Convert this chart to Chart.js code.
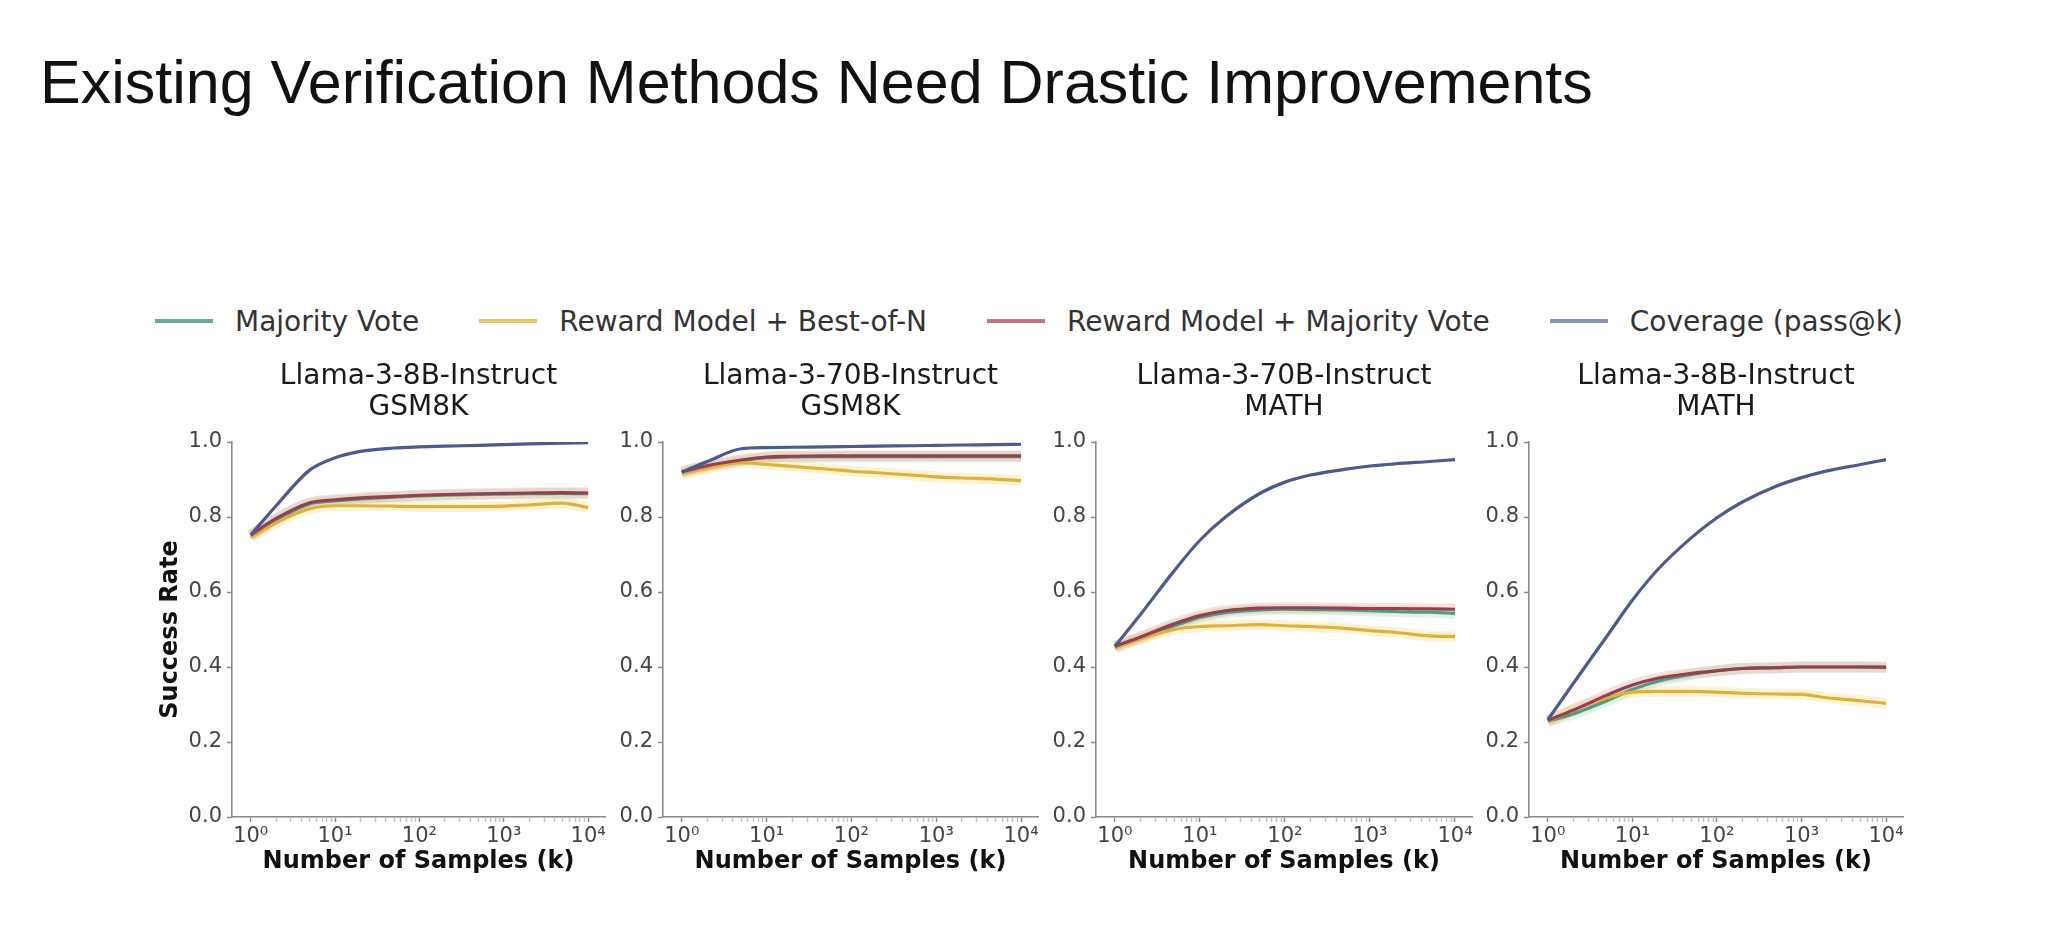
<!DOCTYPE html>
<html><head><meta charset="utf-8">
<script src="https://cdn.jsdelivr.net/npm/chart.js@4.4.0/dist/chart.umd.min.js"></script>
<style>
html,body{margin:0;padding:0;background:#fff;}
body{width:2048px;height:946px;overflow:hidden;position:relative;font-family:'DejaVu Sans',sans-serif;}
#title{position:absolute;left:40px;top:52px;font-family:'Liberation Sans',Arial,sans-serif;font-size:61px;line-height:61px;color:#111;white-space:nowrap;}
#legend{position:absolute;left:155px;top:301px;height:40px;display:flex;align-items:center;font-size:28px;color:#333;white-space:nowrap;}
.item{display:flex;align-items:center;margin-right:60px;}
.swatch{width:58px;height:4px;margin-right:22px;}
canvas{position:absolute;}
</style></head><body>
<div id="title">Existing Verification Methods Need Drastic Improvements</div>
<div id="legend"></div>
<script>
// ---------- data ----------
const ks = [1, 2, 5, 10, 20, 50, 100, 200, 500, 1000, 2000, 5000, 10000];
const seriesNames = ["Majority Vote", "Reward Model + Best-of-N", "Reward Model + Majority Vote", "Coverage (pass@k)"];
const panelTitles = [
  ["Llama-3-8B-Instruct", "GSM8K"],
  ["Llama-3-70B-Instruct", "GSM8K"],
  ["Llama-3-70B-Instruct", "MATH"],
  ["Llama-3-8B-Instruct", "MATH"]
];
const xTickValues = [1, 10, 100, 1000, 10000];
const xTickLabels = ["10\u2070", "10\u00B9", "10\u00B2", "10\u00B3", "10\u2074"];
const yTickValues = [0, 0.2, 0.4, 0.6, 0.8, 1.0];
const yTickLabels = ["0.0", "0.2", "0.4", "0.6", "0.8", "1.0"];
const xAxisTitle = "Number of Samples (k)";
const yAxisTitle = "Success Rate";

// Panel 1: Llama-3-8B-Instruct GSM8K
const p1MajorityVote = [0.750, 0.792, 0.835, 0.843, 0.848, 0.853, 0.856, 0.858, 0.860, 0.861, 0.862, 0.863, 0.862];
const p1BestOfN      = [0.745, 0.785, 0.822, 0.830, 0.830, 0.829, 0.828, 0.828, 0.828, 0.829, 0.832, 0.837, 0.825];
const p1RMMajority   = [0.752, 0.796, 0.838, 0.846, 0.851, 0.855, 0.858, 0.860, 0.862, 0.863, 0.864, 0.865, 0.864];
const p1Coverage     = [0.752, 0.830, 0.925, 0.958, 0.975, 0.984, 0.987, 0.989, 0.991, 0.993, 0.995, 0.997, 0.998];

// Panel 2: Llama-3-70B-Instruct GSM8K
const p2MajorityVote = [0.920, 0.935, 0.950, 0.958, 0.960, 0.961, 0.961, 0.961, 0.961, 0.961, 0.961, 0.961, 0.961];
const p2BestOfN      = [0.915, 0.930, 0.945, 0.940, 0.935, 0.928, 0.922, 0.918, 0.912, 0.907, 0.904, 0.901, 0.897];
const p2RMMajority   = [0.920, 0.937, 0.952, 0.960, 0.962, 0.963, 0.963, 0.963, 0.963, 0.963, 0.963, 0.963, 0.963];
const p2Coverage     = [0.920, 0.948, 0.982, 0.985, 0.986, 0.987, 0.988, 0.989, 0.990, 0.991, 0.992, 0.993, 0.994];

// Panel 3: Llama-3-70B-Instruct MATH
const p3MajorityVote = [0.455, 0.478, 0.510, 0.532, 0.545, 0.552, 0.554, 0.553, 0.552, 0.550, 0.548, 0.546, 0.543];
const p3BestOfN      = [0.450, 0.475, 0.500, 0.508, 0.510, 0.513, 0.510, 0.508, 0.503, 0.497, 0.492, 0.483, 0.481];
const p3RMMajority   = [0.455, 0.480, 0.515, 0.537, 0.550, 0.557, 0.558, 0.558, 0.557, 0.556, 0.556, 0.555, 0.554];
const p3Coverage     = [0.455, 0.540, 0.657, 0.738, 0.800, 0.862, 0.893, 0.912, 0.927, 0.936, 0.942, 0.948, 0.953];

// Panel 4: Llama-3-8B-Instruct MATH
const p4MajorityVote = [0.255, 0.275, 0.310, 0.340, 0.362, 0.380, 0.390, 0.396, 0.398, 0.400, 0.400, 0.400, 0.400];
const p4BestOfN      = [0.255, 0.285, 0.318, 0.333, 0.335, 0.335, 0.333, 0.330, 0.328, 0.327, 0.318, 0.310, 0.303];
const p4RMMajority   = [0.258, 0.285, 0.325, 0.352, 0.370, 0.383, 0.390, 0.396, 0.398, 0.400, 0.400, 0.400, 0.399];
const p4Coverage     = [0.259, 0.356, 0.482, 0.578, 0.660, 0.745, 0.798, 0.840, 0.882, 0.905, 0.923, 0.940, 0.953];

const panelData = [
  [p1MajorityVote, p1BestOfN, p1RMMajority, p1Coverage],
  [p2MajorityVote, p2BestOfN, p2RMMajority, p2Coverage],
  [p3MajorityVote, p3BestOfN, p3RMMajority, p3Coverage],
  [p4MajorityVote, p4BestOfN, p4RMMajority, p4Coverage]
];

// ---------- styles / layout ----------
const lineColors = ["#4f9a84", "#dcb13f", "#93404f", "#4d5a8e"];
const haloColors = ["rgba(110,200,120,0.20)", "rgba(250,215,100,0.28)", "rgba(235,120,120,0.22)", "rgba(0,0,0,0)"];
const legendColors = ["#6aa795", "#e6c66c", "#bd7783", "#8893b9"];
const plotLefts = [232, 663, 1096, 1529];
const plotWidths = [373, 375, 376, 374];
const plotTop = 442, plotBottom = 817;
const yAxisW = 80, topBoxH = 84, bottomBoxH = 59, rightPad = 30;

// legend
const legendEl = document.getElementById('legend');
seriesNames.forEach((n, i) => {
  const it = document.createElement('div'); it.className = 'item';
  const sw = document.createElement('div'); sw.className = 'swatch'; sw.style.background = legendColors[i];
  const tx = document.createElement('span'); tx.textContent = n;
  it.appendChild(sw); it.appendChild(tx); legendEl.appendChild(it);
});

// minor ticks on the log axis
const xAllTicks = [];
xTickValues.forEach((d, i) => {
  xAllTicks.push(d);
  if (i < xTickValues.length - 1) for (let m = 2; m <= 9; m++) xAllTicks.push(d * m);
});

const axisGray = "#8a8a8a";
Chart.defaults.font.family = "'DejaVu Sans', sans-serif";

panelData.forEach((series, p) => {
  const cv = document.createElement('canvas');
  const W = yAxisW + plotWidths[p] + rightPad;
  const top = plotTop - topBoxH;
  const H = (plotBottom + bottomBoxH) - top;
  cv.width = W; cv.height = H;
  cv.style.left = (plotLefts[p] - yAxisW) + 'px';
  cv.style.top = top + 'px';
  cv.style.width = W + 'px'; cv.style.height = H + 'px';
  document.body.appendChild(cv);

  const datasets = [];
  series.forEach((vals, s) => {
    const pts = ks.map((k, i) => ({x: k, y: vals[i]}));
    datasets.push({
      label: seriesNames[s], data: pts, borderColor: lineColors[s], borderWidth: 3.2,
      pointRadius: 0, cubicInterpolationMode: 'monotone', order: 4 - s, fill: false
    });
    datasets.push({
      label: seriesNames[s] + ' band', data: pts, borderColor: haloColors[s], borderWidth: 11,
      pointRadius: 0, cubicInterpolationMode: 'monotone', order: 10 + (4 - s), fill: false
    });
  });

  new Chart(cv, {
    type: 'line',
    data: {datasets},
    options: {
      responsive: false, animation: false, devicePixelRatio: 1,
      layout: {padding: {left: 0, right: rightPad, top: 0, bottom: 0}, autoPadding: false},
      plugins: {legend: {display: false}, tooltip: {enabled: false}, title: {display: false}},
      scales: {
        x: {
          type: 'logarithmic', position: 'bottom', min: Math.pow(10, -0.2), max: Math.pow(10, 4.2),
          afterBuildTicks: s => { s.ticks = xAllTicks.map(v => ({value: v, major: xTickValues.includes(v)})); },
          afterFit: s => { s.height = bottomBoxH; },
          ticks: {
            autoSkip: false, maxRotation: 0, padding: 2, color: '#444', font: {size: 21},
            callback: v => { const i = xTickValues.indexOf(v); return i >= 0 ? xTickLabels[i] : ''; }
          },
          grid: {drawOnChartArea: false, drawTicks: true, tickLength: 5,
                 tickColor: c => (c.tick && c.tick.major) ? axisGray : '#c4c4c4', tickWidth: 1.5},
          border: {display: true, color: axisGray, width: 1.6},
          title: {display: true, text: xAxisTitle, color: '#111', font: {size: 24, weight: 'bold', lineHeight: 1.2}, padding: {top: 0, bottom: 0}}
        },
        y: {
          type: 'linear', position: 'left', min: 0, max: 1,
          afterBuildTicks: s => { s.ticks = yTickValues.map(v => ({value: v})); },
          afterFit: s => { s.width = yAxisW; },
          ticks: {padding: 5, color: '#444', font: {size: 21}, callback: (v, i) => yTickLabels[i]},
          grid: {drawOnChartArea: false, drawTicks: true, tickLength: 5, tickColor: axisGray, tickWidth: 1.5},
          border: {display: true, color: axisGray, width: 1.6},
          title: {display: p === 0, text: yAxisTitle, color: '#111', font: {size: 24, weight: 'bold', lineHeight: 1.2}, padding: {top: 4, bottom: 0}}
        },
        xTop: {
          type: 'linear', position: 'top', min: 0, max: 1, display: true,
          afterFit: s => { s.height = topBoxH; },
          ticks: {display: false}, grid: {display: false}, border: {display: false},
          title: {display: true, text: panelTitles[p], color: '#1a1a1a', font: {size: 28, lineHeight: 31 / 28}, padding: {top: 3, bottom: 0}}
        }
      }
    }
  });
});
</script>
</body></html>
